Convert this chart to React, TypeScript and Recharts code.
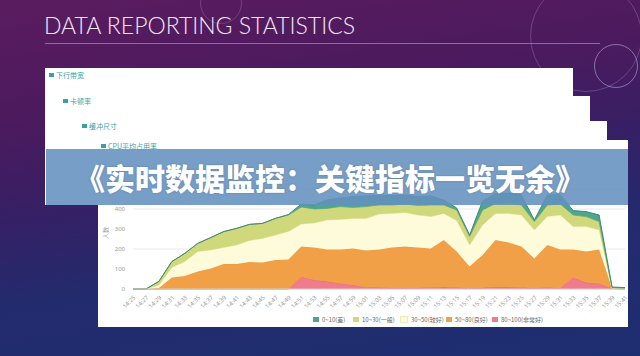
import React from "react";
import { AreaChart, Area, XAxis, YAxis, CartesianGrid } from "recharts";

const times = [
  "14:25", "14:27", "14:29", "14:31", "14:33", "14:35", "14:37", "14:39", "14:41", "14:43",
  "14:45", "14:47", "14:49", "14:51", "14:53", "14:55", "14:57", "14:59", "15:01", "15:03",
  "15:05", "15:07", "15:09", "15:11", "15:13", "15:15", "15:17", "15:19", "15:21", "15:23",
  "15:25", "15:27", "15:29", "15:31", "15:33", "15:35", "15:37", "15:39", "15:41",
];

// stacked from the bottom up
const veryGood = [0, 0, 0, 0, 0, 0, 0, 0, 0, 0, 0, 0, 0, 60, 45, 37, 28, 20, 8, 7, 6, 6, 6, 8, 10, 8, 4, 6, 10, 10, 8, 5, 8, 5, 58, 32, 28, 2, 0];
const good = [0, 0, 5, 58, 65, 87, 103, 125, 125, 135, 132, 145, 148, 152, 163, 161, 170, 183, 184, 191, 202, 206, 202, 195, 235, 179, 108, 164, 235, 222, 204, 148, 212, 193, 140, 155, 170, 1, 0];
const fair = [0, 0, 15, 50, 72, 100, 92, 83, 95, 107, 121, 125, 139, 113, 122, 147, 150, 150, 161, 177, 170, 170, 162, 159, 133, 155, 108, 150, 133, 146, 158, 142, 142, 172, 114, 125, 97, 2, 1];
const normal = [0, 0, 18, 29, 41, 41, 62, 79, 83, 81, 75, 83, 83, 85, 70, 58, 64, 55, 59, 45, 42, 43, 48, 58, 42, 53, 42, 75, 50, 52, 50, 42, 58, 55, 58, 50, 42, 1, 1];
const poor = [0, 0, 0, 0, 0, 0, 0, 0, 0, 0, 0, 0, 2, 15, 20, 42, 43, 54, 53, 48, 48, 45, 44, 45, 25, 10, 8, 45, 50, 48, 50, 8, 50, 47, 22, 25, 33, 4, 5];

const yTicks = [0, 100, 200, 300, 400];

const series = [
  { key: "veryGood", name: "80~100(非常好)", fill: "#f07b8b", stroke: "#e86a7c" },
  { key: "good", name: "50~80(良好)", fill: "#f2a048", stroke: "#ee9a3e" },
  { key: "fair", name: "30~50(较好)", fill: "#fdfbd9", stroke: "#f3eebe" },
  { key: "normal", name: "10~30(一般)", fill: "#d0d87c", stroke: "#98ab52" },
  { key: "poor", name: "0~10(差)", fill: "#4ba78f", stroke: "#3d8a7c" },
];

const data = times.map((time, i) => ({
  time,
  veryGood: veryGood[i],
  good: good[i],
  fair: fair[i],
  normal: normal[i],
  poor: poor[i],
}));

const legendX = [313, 353, 400, 446, 492];

const cards = [
  { left: 45, top: 68, right: 573, bottom: 205, label: "下行带宽", lx: 49, ly: 70 },
  { left: 58, top: 96, right: 590, bottom: 205, label: "卡顿率", lx: 63, ly: 96 },
  { left: 72, top: 121, right: 607, bottom: 205, label: "缓冲尺寸", lx: 82, ly: 121 },
  { left: 86, top: 140, right: 628, bottom: 205, label: "CPU平均占用率", lx: 101, ly: 141 },
];

const cjk = '"Noto Sans CJK SC", "Noto Sans", sans-serif';

export default function App() {
  return (
    <div
      style={{
        position: "fixed",
        left: 0,
        top: 0,
        width: 640,
        height: 356,
        overflow: "hidden",
        background:
          "linear-gradient(172deg, #5a1c5f 0%, #4c1a5e 28%, #352066 50%, #232b6d 68%, #1d2e70 100%)",
      }}
    >
      {/* faint decoration */}
      <div style={{ position: "absolute", left: 594, top: 44, width: 42, height: 42, borderRadius: "50%", border: "1.5px solid rgba(200,200,235,0.5)" }} />
      <div style={{ position: "absolute", left: 530, top: -20, width: 110, height: 110, borderRadius: "50%", border: "1px solid rgba(200,170,225,0.28)" }} />
      <div style={{ position: "absolute", left: 200, top: -18, width: 40, height: 40, borderRadius: "50%", border: "1px solid rgba(200,170,225,0.25)" }} />

      <div
        style={{
          position: "absolute",
          left: 44,
          top: 11,
          color: "#f3e9f4",
          fontFamily: "Lato, 'Open Sans', sans-serif",
          fontWeight: 300,
          fontSize: 23,
          letterSpacing: 0,
          whiteSpace: "nowrap",
        }}
      >
        DATA REPORTING STATISTICS
      </div>
      <div style={{ position: "absolute", left: 45, top: 43, width: 555, height: 1, background: "rgba(205,150,215,0.6)" }} />

      {cards.map((c) => (
        <div
          key={c.label}
          style={{ position: "absolute", left: c.left, top: c.top, width: c.right - c.left, height: c.bottom - c.top, background: "#fff" }}
        >
          <div
            style={{
              position: "absolute",
              left: c.lx - c.left,
              top: c.ly - c.top,
              fontFamily: cjk,
              fontSize: 7,
              color: "#3a9fa6",
              whiteSpace: "nowrap",
              display: "flex",
              alignItems: "center",
              gap: 2,
            }}
          >
            <span style={{ display: "inline-block", width: 5, height: 4, background: "#3a9fa6" }} />
            {c.label}
          </div>
        </div>
      ))}

      <div style={{ position: "absolute", left: 98, top: 150, width: 530, height: 177, background: "#fff" }}>
        <AreaChart width={530} height={177} data={data} margin={{ top: 39, right: 3, bottom: 18, left: 0 }}>
          <CartesianGrid vertical={false} stroke="#e8e8e8" />
          <XAxis
            dataKey="time"
            interval={0}
            angle={-45}
            textAnchor="end"
            height={20}
            tickLine={false}
            tickSize={4}
            axisLine={{ stroke: "#d0d0d0" }}
            tick={{ fontSize: 6, fill: "#9a9a9a", fontFamily: "Noto Sans, sans-serif" }}
          />
          <YAxis
            width={35}
            domain={[0, 500]}
            ticks={yTicks}
            axisLine={false}
            tickLine={false}
            tick={{ fontSize: 6, fill: "#9a9a9a", fontFamily: "Noto Sans, sans-serif" }}
            label={{ value: "人数", angle: -90, position: "insideLeft", offset: 8, fontSize: 6, fill: "#9a9a9a", fontFamily: cjk }}
          />
          {series.map((s) => (
            <Area
              key={s.key}
              type="linear"
              dataKey={s.key}
              name={s.name}
              stackId="a"
              fill={s.fill}
              fillOpacity={1}
              stroke={s.stroke}
              strokeWidth={1}
              isAnimationActive={false}
            />
          ))}
        </AreaChart>
      </div>

      {[...series].reverse().map((s, i) => (
        <div
          key={s.key}
          style={{
            position: "absolute",
            left: legendX[i],
            top: 315,
            display: "flex",
            alignItems: "center",
            gap: 3,
            fontFamily: cjk,
            fontSize: 6,
            color: "#666",
            whiteSpace: "nowrap",
          }}
        >
          <span style={{ display: "inline-block", width: 6, height: 5, background: s.fill, border: s.key === "fair" ? "0.5px solid #eee9c0" : "none" }} />
          {s.name}
        </div>
      ))}

      <div
        style={{
          position: "absolute",
          left: 46,
          top: 149,
          width: 582,
          height: 56,
          background: "rgba(100,145,190,0.88)",
          display: "flex",
          alignItems: "center",
          paddingLeft: 29,
          boxSizing: "border-box",
        }}
      >
        <span
          style={{
            fontFamily: cjk,
            fontWeight: 900,
            fontSize: 30,
            color: "#ffffff",
            whiteSpace: "nowrap",
            textShadow: "0 0 2px rgba(40,60,90,0.35)",
          }}
        >
          《实时数据监控：关键指标一览无余》
        </span>
      </div>
    </div>
  );
}
